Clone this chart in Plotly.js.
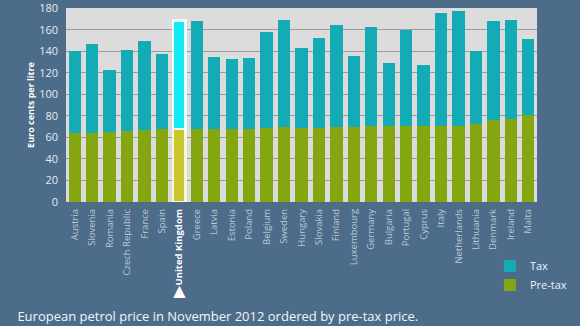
<!DOCTYPE html>
<html>
<head>
<meta charset="utf-8">
<script src="https://cdn.plot.ly/plotly-3.0.1.min.js"></script>
<style>html,body{margin:0;padding:0;background:#4c6c89;}#chart{width:580px;height:326px;}</style>
</head>
<body>
<div id="chart"></div>
<script>
const countries = ["Austria","Slovenia","Romania","Czech Republic","France","Spain","United Kingdom","Greece","Latvia","Estonia","Poland","Belgium","Sweden","Hungary","Slovakia","Finland","Luxembourg","Germany","Bulgaria","Portugal","Cyprus","Italy","Netherlands","Lithuania","Denmark","Ireland","Malta"];
const preTax = [64,64,65,66,67,67.5,68,68,68,68,68,68.5,69.5,69,69,70,70,70.5,70.5,71,71,71,71,72.5,76.5,77,81];
const tax = [76,82.5,58,75.5,83,70,100.5,100,67,65,66,89.5,99.5,74.5,83,94,65.5,92,59,89,56,104.5,106,68,91.5,92.5,70.5];
const highlight = "United Kingdom";
const yTicks = [0,20,40,60,80,100,120,140,160,180];

const isHi = countries.map(c => c === highlight);
const tickText = countries.map(c => c === highlight ? '<span style="color:#ffffff"><b>' + c + '</b></span>' : c);

const traces = [
  {type:'bar', name:'Pre-tax', x:countries, y:preTax,
   marker:{color:isHi.map(h => h ? '#c9c72c' : '#84a70f'),
           line:{color:isHi.map(h => h ? '#f4f8dc' : 'rgba(0,0,0,0)'), width:isHi.map(h => h ? 2.5 : 0)}},
   hoverinfo:'skip'},
  {type:'bar', name:'Tax', x:countries, y:tax,
   marker:{color:isHi.map(h => h ? '#12eaf2' : '#13abb5'),
           line:{color:isHi.map(h => h ? '#f0fbff' : 'rgba(0,0,0,0)'), width:isHi.map(h => h ? 2.5 : 0)}},
   hoverinfo:'skip'}
];

const layout = {
  width:580, height:326,
  paper_bgcolor:'#4c6c89', plot_bgcolor:'#dcdcdc',
  margin:{l:66, r:31, t:8, b:124},
  barmode:'stack', bargap:0.29,
  font:{family:'Open Sans, sans-serif', color:'#e4eaf0'},
  xaxis:{tickmode:'array', tickvals:countries, ticktext:tickText, tickangle:-90,
         tickfont:{size:9.5, color:'#b9c9d6'}, ticks:'', showgrid:false, showline:false, zeroline:false,
         ticklabelstandoff:4},
  yaxis:{range:[0,180.2], tickvals:yTicks, tickfont:{size:11, color:'#e4eaf0'},
         showgrid:true, gridcolor:'#9c9c9c', gridwidth:1, zeroline:false, showline:false,
         ticks:'', ticklabelstandoff:7, ticklabeloverflow:'allow',
         title:{text:'<b>Euro cents per litre</b>', font:{size:9, color:'#ffffff'}, standoff:2}},
  legend:{x:0.9, xanchor:'left', y:-0.255, yanchor:'top', font:{size:11, color:'#eef3f7'},
          bgcolor:'rgba(0,0,0,0)', tracegroupgap:2},
  title:{text:'European petrol price in November 2012 ordered by pre-tax price.',
         x:0.03, xanchor:'left', xref:'container', y:0.014, yanchor:'bottom', yref:'container',
         font:{size:13, color:'#f2f5f8'}},
  annotations:[{x:highlight, xref:'x', y:-0.455, yref:'paper', text:'▲', showarrow:false,
                font:{size:21, color:'#ffffff'}, yanchor:'middle'}]
};

Plotly.newPlot('chart', traces, layout, {displayModeBar:false, staticPlot:true});
</script>
</body>
</html>
